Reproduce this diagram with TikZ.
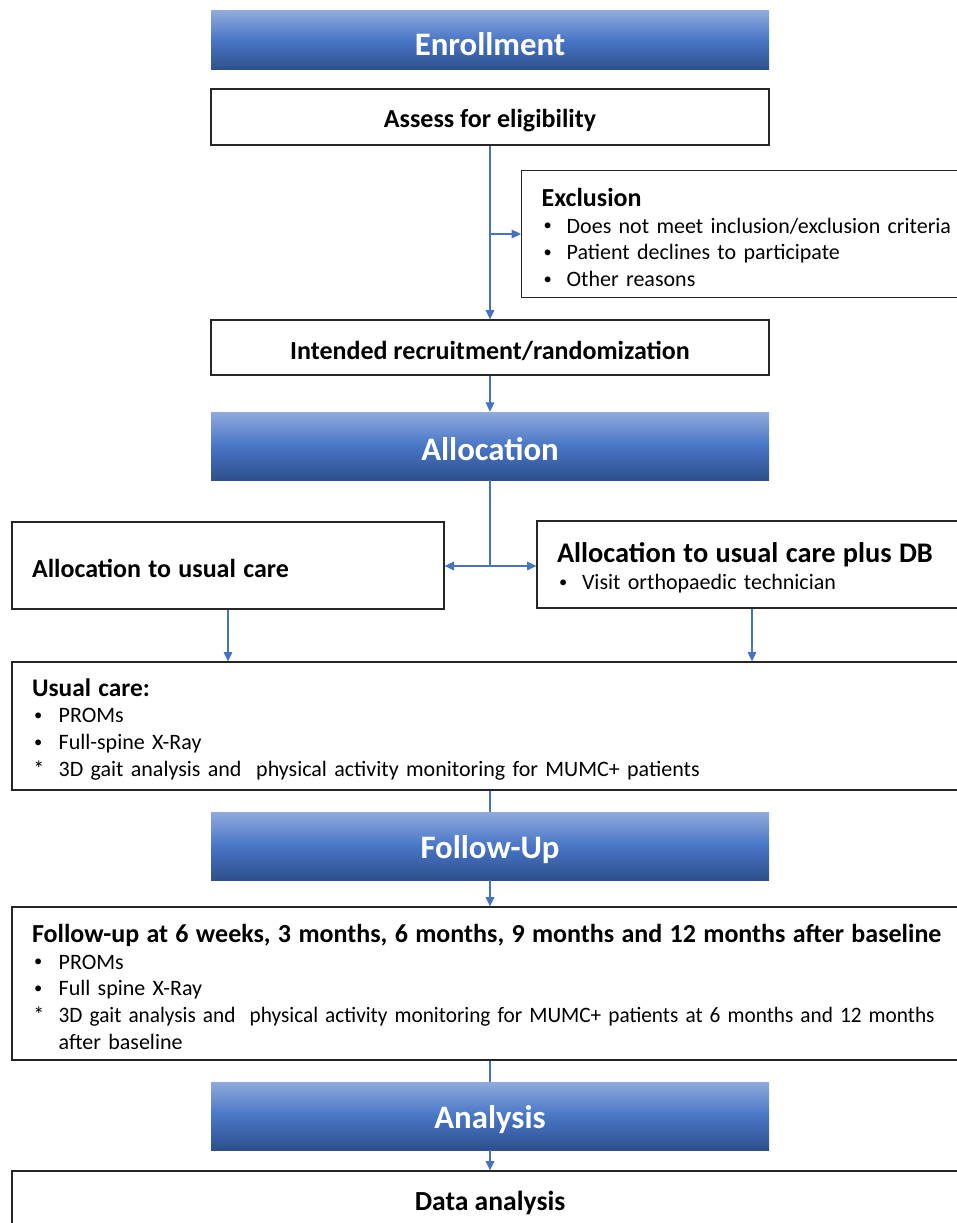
\documentclass[tikz,border=0pt]{standalone}
\usepackage{fontspec}
\setmainfont{Carlito}
\usetikzlibrary{arrows.meta,calc}
\definecolor{hdtop}{RGB}{143,170,220}
\definecolor{hdmid}{RGB}{72,117,197}
\definecolor{hdbot}{RGB}{45,80,140}
\definecolor{conn}{RGB}{68,114,196}
\newcommand{\ttlfont}{\fontsize{19.5}{20}\selectfont\bfseries}
\newcommand{\bdyfont}{\fontsize{16.5}{20}\selectfont}
\newcommand{\bi}[2][20pt]{\makebox[#1][l]{#2}}
\newcommand{\bul}{\hspace{1.5pt}\raisebox{0.1em}{\scalebox{0.75}{\textbullet}}}
\newcommand{\dn}[1]{\raisebox{-2.4pt}[\height][\depth]{#1}}
\begin{document}
\begin{tikzpicture}[x=0.75pt,y=-0.75pt,
  hdr/.style={minimum width=418.5pt, minimum height=51pt, inner sep=0pt,
    top color=hdtop, bottom color=hdbot, middle color=hdmid, draw=none,
    text=white, font=\fontsize{24.6}{28}\selectfont\bfseries},
  box/.style={draw=black!85, line width=1pt, fill=white, inner sep=0pt},
  tbox/.style={box, align=left, inner xsep=15pt, font=\bdyfont},
  link/.style={draw=conn, line width=0.8pt},
  arr/.style={link, -{Triangle[length=7pt,width=6.5pt]}},
]
\useasboundingbox (0,0) rectangle (956,1223);

% headers and boxes
\node[hdr, minimum height=44.25pt] (enr) at (490,40.5) {\dn{Enrollment}};
\node[box, minimum width=418.5pt, minimum height=42pt, font=\ttlfont] (assess) at (490,117) {\dn{Assess for eligibility}};
\node[tbox, anchor=north west, minimum width=351.75pt, minimum height=95.25pt, text width=321.75pt] (excl) at (521,170)
  {\dn{\ttlfont Exclusion}\\
   \dn{\bi[18.75pt]{\bul}Does not meet inclusion/exclusion criteria}\\
   \dn{\bi[18.75pt]{\bul}Patient declines to participate}\\
   \dn{\bi[18.75pt]{\bul}Other reasons}};
\node[box, minimum width=418.5pt, minimum height=41.25pt, font=\ttlfont] (intended) at (490,347.5) {\dn{Intended recruitment/randomization}};
\node[hdr] (alloc) at (490,446) {\dn{Allocation}};

\node[tbox, minimum width=324pt, minimum height=65.25pt, text width=294pt] (left) at (228,565.5)
  {\dn{\ttlfont Allocation to usual care}};
\node[tbox, minimum width=322.5pt, minimum height=65.25pt, text width=292.5pt] (right) at (752,564.5)
  {\dn{\fontsize{21.3}{20}\selectfont\bfseries Allocation to usual care plus DB}\\
   \dn{\bi[18.75pt]{\bul}Visit orthopaedic technician}};

\node[tbox, minimum width=717pt, minimum height=96pt, text width=687pt] (usual) at (490,726)
  {\dn{\fontsize{19}{20}\selectfont\bfseries Usual care:}\\
   \dn{\bi{\bul}PROMs}\\
   \dn{\bi{\bul}Full-spine X-Ray}\\
   \dn{\bi{\hspace{1pt}*}3D gait analysis and \ physical activity monitoring for MUMC+ patients}};

\node[hdr] (follow) at (490,846) {\dn{Follow-Up}};

\node[tbox, minimum width=717pt, minimum height=114.75pt, text width=687pt] (fup) at (490,983.5)
  {\dn{\ttlfont Follow-up at 6 weeks, 3 months, 6 months, 9 months and 12 months after baseline}\\
   \dn{\bi{\bul}PROMs}\\
   \dn{\bi{\bul}Full spine X-Ray}\\
   \dn{\bi{\hspace{1pt}*}\resizebox{657pt}{\height}{3D gait analysis and \ physical activity monitoring for MUMC+ patients at 6 months and 12 months}}\\
   \dn{\bi{}after baseline}};

\node[hdr] (analysis) at (490,1116) {\dn{Analysis}};
\node[box, minimum width=717pt, minimum height=43.5pt, font=\fontsize{20.7}{22}\selectfont\bfseries] (data) at (490,1200) {\dn{Data analysis}};

% connectors
\coordinate (b1) at (490,234);
\draw[arr] (assess.south) -- (intended.north);
\draw[arr] (b1) -- (b1 -| excl.west);
\draw[arr] (intended.south) -- (alloc.north);
\coordinate (b2) at (490,566);
\draw[link] (alloc.south) -- (b2);
\draw[arr] (b2) -- (b2 -| left.east);
\draw[arr] (b2) -- (b2 -| right.west);
\draw[arr] (left.south) -- (left.south |- usual.north);
\draw[arr] (right.south) -- (right.south |- usual.north);
\draw[link] (usual.south) -- (follow.north);
\draw[arr] (follow.south) -- (fup.north);
\draw[link] (fup.south) -- (analysis.north);
\draw[arr] (analysis.south) -- (data.north);
\end{tikzpicture}
\end{document}
